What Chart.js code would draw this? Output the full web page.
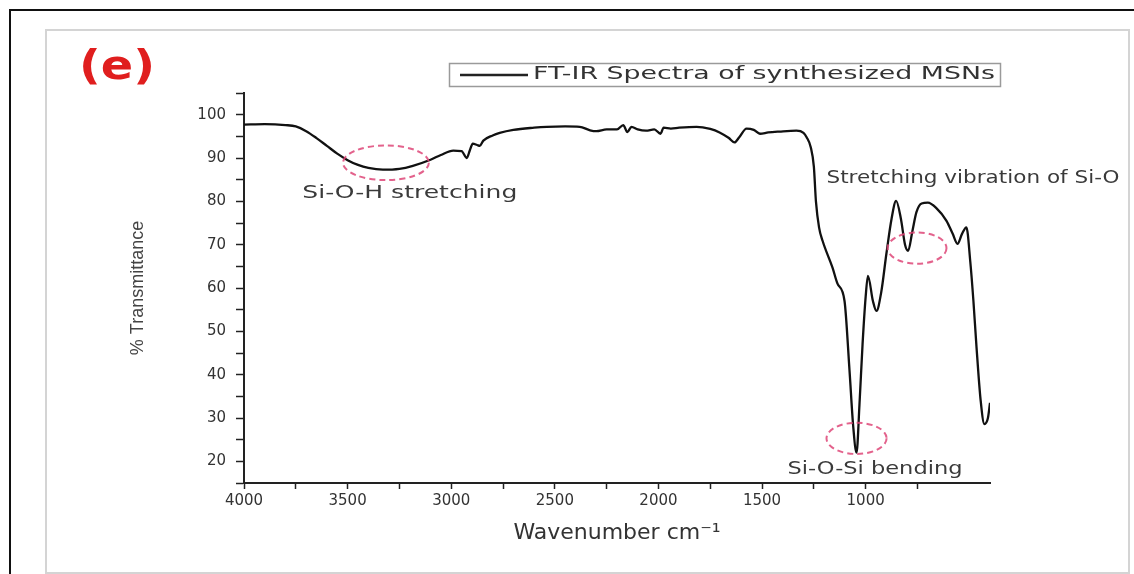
<!DOCTYPE html>
<html>
<head>
<meta charset="utf-8">
<script src="https://cdn.jsdelivr.net/npm/chart.js@4.4.0/dist/chart.umd.min.js"></script>
<style>
  body { margin: 0; background: #fff; }
  #wrap { position: relative; width: 1134px; height: 574px; overflow: hidden; }
  #outer { position: absolute; left: 9px; top: 9px; width: 1200px; height: 600px; border-top: 2px solid #111; border-left: 2px solid #111; }
  #panel { position: absolute; left: 45px; top: 29px; width: 1081px; height: 541px; border: 2px solid #d4d4d4; }
  canvas { position: absolute; left: 0; top: 0; }
</style>
</head>
<body>
<div id="wrap">
  <div id="outer"></div>
  <div id="panel"></div>
  <canvas id="myChart" width="1134" height="574"></canvas>
</div>
<script>
// FT-IR spectrum
var wavenumbers = [4000, 3900, 3800, 3750, 3700, 3650, 3600, 3550, 3500, 3450, 3400, 3330, 3250, 3185, 3100, 3050,
    2990, 2950, 2925, 2910, 2896, 2875, 2862, 2845, 2800, 2766, 2700, 2600, 2539, 2450, 2380, 2330,
    2300, 2250, 2200, 2170, 2150, 2130, 2100, 2060, 2020, 1990, 1975, 1940, 1900, 1816, 1750, 1705,
    1660, 1633, 1610, 1575, 1540, 1510, 1470, 1416, 1334, 1300, 1285, 1265, 1250, 1240, 1225, 1208,
    1160, 1136, 1102, 1078, 1060, 1044, 1030, 1015, 1000, 989, 965, 948, 925, 900, 875, 853,
    830, 810, 795, 775, 755, 730, 700, 660, 610, 580, 557, 535, 514, 495, 480, 466,
    445, 427, 410, 400];
var transmittance = [97.7, 97.8, 97.6, 97.3, 96.2, 94.6, 92.8, 91.0, 89.5, 88.4, 87.7, 87.3, 87.5, 88.2, 89.6, 90.7,
    91.7, 91.6, 90.0, 91.8, 93.3, 93.0, 92.8, 94.0, 95.2, 95.8, 96.5, 97.0, 97.2, 97.3, 97.2, 96.4,
    96.2, 96.6, 96.6, 97.6, 96.0, 97.2, 96.6, 96.3, 96.6, 95.6, 97.0, 96.8, 97.0, 97.2, 96.7, 95.9,
    94.6, 93.6, 94.8, 96.8, 96.5, 95.6, 95.9, 96.1, 96.3, 95.8, 94.8, 92.5, 88.0, 80.0, 74.0, 70.9,
    64.7, 61.0, 57.0, 41.0, 28.0, 22.0, 33.0, 47.0, 58.0, 62.8, 57.0, 54.7, 59.0, 67.9, 76.0, 80.1,
    76.0, 70.0, 68.6, 73.0, 77.5, 79.5, 79.7, 78.5, 75.5, 72.5, 70.2, 72.5, 74.0, 66.0, 57.0, 47.0,
    34.0, 28.6, 30.0, 33.5];

var seriesName = "FT-IR Spectra of synthesized MSNs";
var noteLabels = ["Si-O-H stretching", "Stretching vibration of Si-O", "Si-O-Si bending"];
var bandCenters = [3315, 752, 1044];   // circled bands, cm-1
var bandLevels = [88.9, 69.2, 25.3];   // % T at circle centre

var points = wavenumbers.map(function (w, i) { return {x: w, y: transmittance[i]}; });

// draws text squeezed/stretched to a given width, the figure's text is wide
function wideText(ctx, text, x, y, font, color, width, align) {
    ctx.save();
    ctx.font = font;
    var w = ctx.measureText(text).width;
    ctx.translate(x, y);
    ctx.scale(width / w, 1);
    ctx.fillStyle = color;
    ctx.textAlign = align;
    ctx.textBaseline = "middle";
    ctx.fillText(text, 0, 0);
    ctx.restore();
}

var notes = {
    id: "notes",
    afterDatasetsDraw: function (chart) {
        var ctx = chart.ctx;
        var xs = chart.scales.x, ys = chart.scales.y;

        // dashed circles round the bands
        var radX = [207, 142, 145], radY = [4.0, 3.6, 3.6];
        for (var i = 0; i < bandCenters.length; i++) {
            var cx = xs.getPixelForValue(bandCenters[i]);
            var cy = ys.getPixelForValue(bandLevels[i]);
            var rx = Math.abs(xs.getPixelForValue(bandCenters[i] - radX[i]) - cx);
            var ry = Math.abs(ys.getPixelForValue(bandLevels[i] + radY[i]) - cy);
            ctx.save();
            ctx.setLineDash([6, 4]);
            ctx.strokeStyle = "rgba(222, 70, 120, 0.85)";
            ctx.lineWidth = 2;
            ctx.beginPath();
            ctx.ellipse(cx, cy, rx, ry, 0, 0, Math.PI * 2);
            ctx.stroke();
            ctx.restore();
        }

        var f = "17px 'DejaVu Sans'";
        wideText(ctx, noteLabels[0], xs.getPixelForValue(3200), ys.getPixelForValue(81.8), f, "#3a3a3a", 215, "center");
        wideText(ctx, noteLabels[1], xs.getPixelForValue(1189), ys.getPixelForValue(85.2), f, "#3a3a3a", 293, "left");
        wideText(ctx, noteLabels[2], xs.getPixelForValue(955), ys.getPixelForValue(18.0), f, "#3a3a3a", 175, "center");

        // legend box
        ctx.save();
        ctx.strokeStyle = "#9a9a9a";
        ctx.lineWidth = 1.5;
        ctx.strokeRect(449.5, 63.5, 551, 23);
        ctx.strokeStyle = "#222";
        ctx.lineWidth = 2.5;
        ctx.beginPath();
        ctx.moveTo(460, 75);
        ctx.lineTo(528, 75);
        ctx.stroke();
        ctx.restore();
        wideText(ctx, seriesName, 533, 75, "17px 'DejaVu Sans'", "#333", 462, "left");

        // panel letter
        wideText(ctx, "(e)", 79, 69, "bold 40px 'DejaVu Sans'", "#e01e1e", 76, "left");
    }
};

var ctx = document.getElementById("myChart");

var myChart = new Chart(ctx, {
    type: "line",
    data: {
        datasets: [{
            label: seriesName,
            data: points,
            borderColor: "#111",
            borderWidth: 2.3,
            pointRadius: 0,
            fill: false,
            cubicInterpolationMode: "monotone"
        }]
    },
    options: {
        responsive: false,
        animation: false,
        layout: {padding: {top: 93, right: 144, left: 0, bottom: 0}},
        plugins: {
            legend: {display: false},
            tooltip: {enabled: false}
        },
        scales: {
            x: {
                type: "linear",
                reverse: true,
                min: 400,
                max: 4000,
                afterBuildTicks: function (s) {
                    s.ticks = s.ticks.filter(function (t) { return t.value % 250 === 0; });
                },
                afterFit: function (s) { s.height = 91; },
                ticks: {
                    stepSize: 250,
                    autoSkip: false,
                    maxRotation: 0,
                    padding: 3,
                    color: "#333",
                    font: {family: "DejaVu Sans", size: 15},
                    callback: function (v) { return v % 500 === 0 ? v : ""; }
                },
                grid: {drawOnChartArea: false, tickLength: 6, tickWidth: 1.5, color: "#222"},
                border: {color: "#222", width: 2},
                title: {
                    display: true,
                    text: "Wavenumber cm⁻¹",
                    color: "#333",
                    font: {family: "DejaVu Sans", size: 22},
                    padding: {bottom: 28}
                }
            },
            y: {
                min: 15,
                max: 105,
                afterFit: function (s) { s.width = 244; },
                ticks: {
                    stepSize: 5,
                    padding: 10,
                    color: "#333",
                    font: {family: "DejaVu Sans", size: 15},
                    callback: function (v) { return v % 10 === 0 ? v : ""; }
                },
                grid: {drawOnChartArea: false, tickLength: 8, tickWidth: 1.5, color: "#222"},
                border: {color: "#222", width: 2},
                title: {
                    display: true,
                    text: "% Transmittance",
                    color: "#444",
                    font: {family: "Liberation Sans", size: 18},
                    padding: {top: 127}
                }
            }
        }
    },
    plugins: [notes]
});
</script>
</body>
</html>
